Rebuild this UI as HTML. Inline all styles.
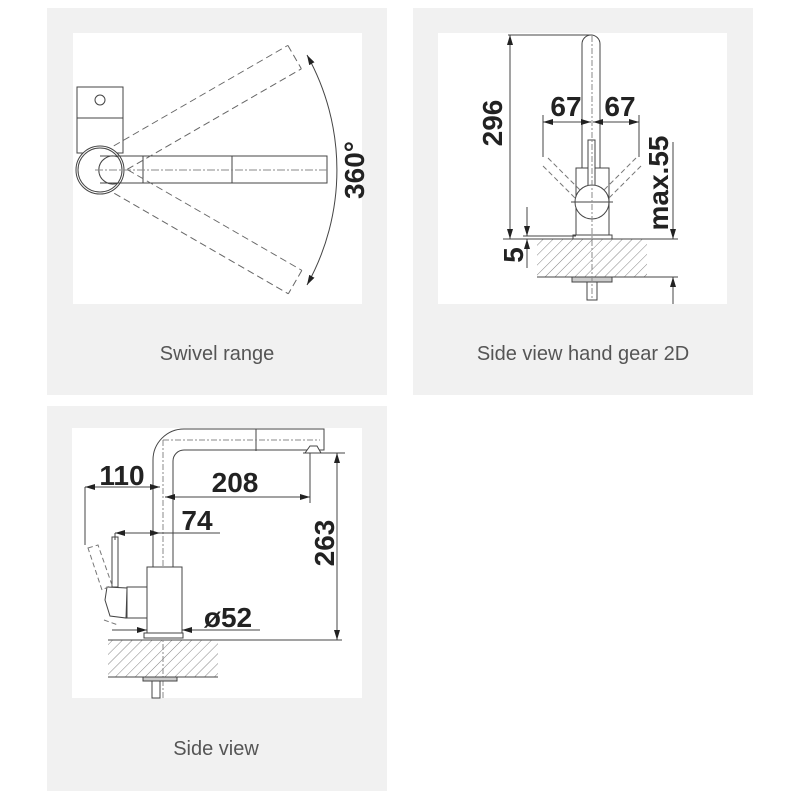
<!DOCTYPE html>
<html><head><meta charset="utf-8"><style>
html,body{margin:0;padding:0;background:#fff;width:800px;height:800px;overflow:hidden}
svg{display:block}
.t{font-family:"Liberation Sans",sans-serif;font-weight:bold;font-size:28px;fill:#222}
.c{font-family:"Liberation Sans",sans-serif;font-size:20px;fill:#555}
</style></head><body>
<svg width="800" height="800" viewBox="0 0 800 800" xmlns="http://www.w3.org/2000/svg">
<defs>
<pattern id="h" width="7" height="7" patternUnits="userSpaceOnUse" patternTransform="rotate(45)">
<line x1="0" y1="0" x2="0" y2="7" stroke="#666" stroke-width="0.8"/></pattern>
<marker id="a" viewBox="0 0 10 6" refX="10" refY="3" markerWidth="10" markerHeight="6" orient="auto-start-reverse" markerUnits="userSpaceOnUse"><path d="M0,0 L10,3 L0,6z" fill="#222"/></marker>
</defs>
<!-- cards -->
<rect x="47" y="8" width="340" height="387" fill="#f1f1f1"/>
<rect x="413" y="8" width="340" height="387" fill="#f1f1f1"/>
<rect x="47" y="406" width="340" height="385" fill="#f1f1f1"/>
<rect x="73" y="33" width="289" height="271" fill="#fff"/>
<rect x="438" y="33" width="289" height="271" fill="#fff"/>
<rect x="72" y="428" width="290" height="270" fill="#fff"/>
<text class="c" x="217" y="360" text-anchor="middle">Swivel range</text>
<text class="c" x="583" y="360" text-anchor="middle">Side view hand gear 2D</text>
<text class="c" x="216" y="755" text-anchor="middle">Side view</text>

<!-- Swivel -->
<g stroke="#444" stroke-width="1" fill="none">
<rect x="77" y="87" width="46" height="66" fill="#fff"/>
<line x1="77" y1="118" x2="123" y2="118"/>
<circle cx="100" cy="100" r="5"/>
<circle cx="100" cy="170" r="24" fill="#fff"/>
<circle cx="100" cy="170" r="22"/>
<path d="M118,157 A14,14 0 1 0 118,183"/>
<path d="M100,156 H327 V183 H100" fill="none"/>
<line x1="143" y1="156" x2="143" y2="183"/>
<line x1="232" y1="156" x2="232" y2="183"/>
<line x1="95" y1="170" x2="327" y2="170" stroke-dasharray="8,2,2,2" stroke="#888"/>
<g stroke-dasharray="7,4" stroke="#666">
<g transform="rotate(-30 100 170)">
<line x1="124" y1="156" x2="325" y2="156"/><line x1="124" y1="183" x2="325" y2="183"/><line x1="325" y1="156" x2="325" y2="183"/>
</g>
<g transform="rotate(30 100 170)">
<line x1="124" y1="156" x2="325" y2="156"/><line x1="124" y1="183" x2="325" y2="183"/><line x1="325" y1="156" x2="325" y2="183"/>
</g>
</g>
<path d="M307,55 A236,236 0 0 1 307,285" marker-start="url(#a)" marker-end="url(#a)"/>
</g>
<text class="t" transform="translate(364,170) rotate(-90)" text-anchor="middle">360°</text>

<!-- Side view hand gear -->
<g stroke="#444" stroke-width="1" fill="none">
<rect x="537" y="239" width="110" height="38" fill="url(#h)" stroke="none"/>
<line x1="503" y1="239" x2="678" y2="239"/>
<line x1="537" y1="277" x2="678" y2="277"/>
<path d="M582,168 V44 A9,9 0 0 1 600,44 V168"/>
<rect x="576" y="168" width="33" height="67" fill="#fff"/>
<rect x="573" y="235" width="39" height="4" fill="#fff"/>
<rect x="588" y="140" width="7" height="60" fill="#fff"/>
<circle cx="592" cy="202" r="17" fill="#fff"/>
<line x1="571" y1="202" x2="613" y2="202"/>
<rect x="572" y="277" width="40" height="5" fill="#ccc"/>
<rect x="587" y="282" width="10" height="18" fill="#fff"/>
<line x1="592" y1="36" x2="592" y2="300" stroke="#888" stroke-dasharray="6,2,2,2"/>
<g stroke-dasharray="5,3" stroke="#777">
<path d="M548,158 L580,190 M543,166 L575,198"/>
<path d="M636,158 L604,190 M641,166 L609,198"/>
</g>
<line x1="508" y1="35" x2="592" y2="35"/>
<line x1="510" y1="35" x2="510" y2="239" marker-start="url(#a)" marker-end="url(#a)"/>
<line x1="543" y1="115" x2="543" y2="157"/><line x1="639" y1="115" x2="639" y2="157"/>
<line x1="543" y1="122" x2="591" y2="122" marker-start="url(#a)" marker-end="url(#a)"/>
<line x1="593" y1="122" x2="639" y2="122" marker-start="url(#a)" marker-end="url(#a)"/>
<line x1="673" y1="142" x2="673" y2="239" marker-end="url(#a)"/>
<line x1="673" y1="304" x2="673" y2="277" marker-end="url(#a)"/>
<line x1="527" y1="207" x2="527" y2="236" marker-end="url(#a)"/>
<line x1="527" y1="268" x2="527" y2="239" marker-end="url(#a)"/>
<line x1="523" y1="236" x2="576" y2="236"/>
</g>
<text class="t" transform="translate(502,123) rotate(-90)" text-anchor="middle">296</text>
<text class="t" x="566" y="116" text-anchor="middle">67</text>
<text class="t" x="620" y="116" text-anchor="middle">67</text>
<text class="t" transform="translate(668,183) rotate(-90)" text-anchor="middle">max.55</text>
<text class="t" transform="translate(523,255) rotate(-90)" text-anchor="middle">5</text>

<!-- Side view -->
<g stroke="#444" stroke-width="1" fill="none">
<rect x="108" y="640" width="110" height="37" fill="url(#h)" stroke="none"/>
<line x1="108" y1="640" x2="342" y2="640"/>
<line x1="108" y1="677" x2="218" y2="677"/>
<path d="M153,567 V460 A31,31 0 0 1 184,429 H324 V450 H184 A11,11 0 0 0 173,461 V567" fill="#fff"/>
<line x1="256" y1="429" x2="256" y2="451"/>
<path d="M305,453 L310,446 L317,446 L321,453 Z" fill="#fff"/>
<line x1="163" y1="440" x2="320" y2="440" stroke="#888" stroke-dasharray="6,2,2,2"/>
<line x1="163" y1="440" x2="163" y2="700" stroke="#888" stroke-dasharray="6,2,2,2"/>
<rect x="147" y="567" width="35" height="66" fill="#fff"/>
<rect x="127" y="587" width="20" height="31" fill="#fff"/>
<rect x="112" y="537" width="6" height="50" fill="#fff"/>
<path d="M107,587 L127,588 L126,618 L110,616 L105,600 Z" fill="#fff"/>
<path d="M88,548 L98,545 L112,585 L102,590 Z M104,620 L118,625" stroke-dasharray="5,3" stroke="#777"/>
<rect x="144" y="633" width="39" height="5" fill="#fff"/>
<rect x="143" y="677" width="34" height="4" fill="#ccc"/>
<rect x="152" y="681" width="8" height="17" fill="#fff"/>
<line x1="85" y1="487" x2="85" y2="545"/>
<line x1="85" y1="487" x2="160" y2="487" marker-start="url(#a)" marker-end="url(#a)"/>
<line x1="310" y1="453" x2="310" y2="503"/>
<line x1="165" y1="497" x2="310" y2="497" marker-start="url(#a)" marker-end="url(#a)"/>
<line x1="115" y1="533" x2="115" y2="540"/>
<line x1="115" y1="533" x2="160" y2="533" marker-start="url(#a)" marker-end="url(#a)"/>
<line x1="160" y1="533" x2="220" y2="533"/>
<line x1="112" y1="630" x2="147" y2="630" marker-end="url(#a)"/>
<line x1="260" y1="630" x2="182" y2="630" marker-end="url(#a)"/>
<line x1="303" y1="453" x2="345" y2="453"/>
<line x1="337" y1="453" x2="337" y2="640" marker-start="url(#a)" marker-end="url(#a)"/>
</g>
<text class="t" x="122" y="485" text-anchor="middle">110</text>
<text class="t" x="235" y="492" text-anchor="middle">208</text>
<text class="t" x="197" y="530" text-anchor="middle">74</text>
<text class="t" x="228" y="627" text-anchor="middle">ø52</text>
<text class="t" transform="translate(334,543) rotate(-90)" text-anchor="middle">263</text>
</svg>
</body></html>
